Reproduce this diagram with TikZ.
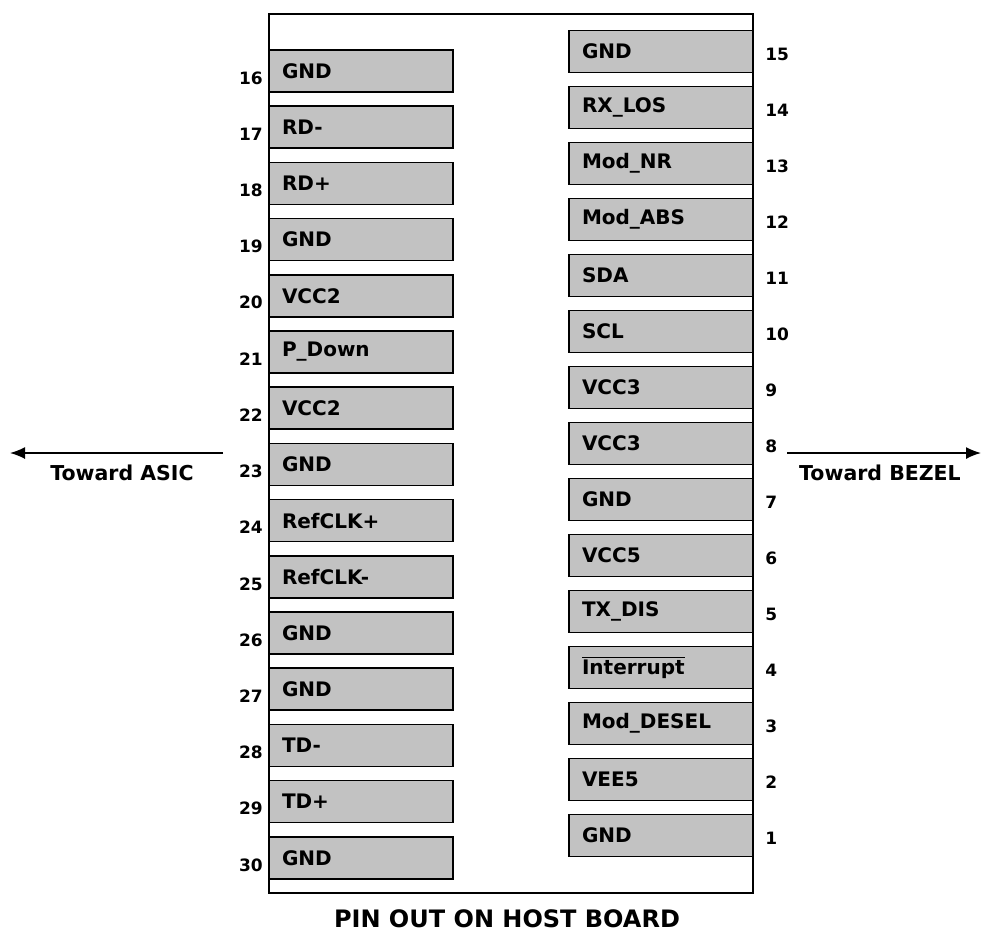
\documentclass[tikz,border=0pt]{standalone}
\usepackage{fontspec}
\setmainfont{DejaVu Sans}
\usepackage{tikz}
\usetikzlibrary{positioning,arrows.meta}
\usepackage{xcolor}
\definecolor{padgray}{RGB}{194,194,194}
\newcommand{\activelow}[1]{\setbox0\hbox{#1}\rlap{\rule[\dimexpr\ht0+1.8pt\relax]{\wd0}{1.3pt}}\box0}

\begin{document}
\begin{tikzpicture}[x=1pt,y=-1pt,
  pad/.style={rectangle,draw=black,line width=1.5pt,fill=padgray,
    font=\fontsize{20}{23}\selectfont\bfseries,minimum width=184pt,minimum height=42pt,
    inner xsep=13pt,text width=158pt,align=left},
  lpin/.style={pad,label={[name=n#1,font=\fontsize{17}{20}\selectfont\bfseries,
    yshift=-7pt,label distance=2pt]left:#1}},
  rpin/.style={pad,label={[name=n#1,font=\fontsize{17}{20}\selectfont\bfseries,
    yshift=-3pt,label distance=8pt]right:#1}},
  darr/.style={-{Latex[length=15pt,width=12pt]},black,line width=1.5pt},
  dlab/.style={font=\fontsize{20.5}{24}\selectfont\bfseries}
]
\useasboundingbox (0,0) rectangle (981,938);
\node[draw=black,line width=1.5pt,minimum width=484pt,minimum height=879pt] (board) at (511,453.5) {};
% left row, pins 16 to 30
\node[lpin=16] (p16) at (361,71) {GND};
\node[lpin=17] (p17) at (361,127.2) {RD-};
\node[lpin=18] (p18) at (361,183.4) {RD+};
\node[lpin=19] (p19) at (361,239.6) {GND};
\node[lpin=20] (p20) at (361,295.8) {VCC2};
\node[lpin=21] (p21) at (361,352) {P\_Down};
\node[lpin=22] (p22) at (361,408.2) {VCC2};
\node[lpin=23] (p23) at (361,464.4) {GND};
\node[lpin=24] (p24) at (361,520.6) {RefCLK+};
\node[lpin=25] (p25) at (361,576.8) {RefCLK-};
\node[lpin=26] (p26) at (361,633) {GND};
\node[lpin=27] (p27) at (361,689.2) {GND};
\node[lpin=28] (p28) at (361,745.4) {TD-};
\node[lpin=29] (p29) at (361,801.6) {TD+};
\node[lpin=30] (p30) at (361,857.8) {GND};
% right row, pins 15 down to 1
\node[rpin=15] (p15) at (661,51.5) {GND};
\node[rpin=14] (p14) at (661,107.5) {RX\_LOS};
\node[rpin=13] (p13) at (661,163.5) {Mod\_NR};
\node[rpin=12] (p12) at (661,219.5) {Mod\_ABS};
\node[rpin=11] (p11) at (661,275.5) {SDA};
\node[rpin=10] (p10) at (661,331.5) {SCL};
\node[rpin=9] (p9) at (661,387.5) {VCC3};
\node[rpin=8] (p8) at (661,443.5) {VCC3};
\node[rpin=7] (p7) at (661,499.5) {GND};
\node[rpin=6] (p6) at (661,555.5) {VCC5};
\node[rpin=5] (p5) at (661,611.5) {TX\_DIS};
\node[rpin=4] (p4) at (661,667.5) {\activelow{Interrupt}};
\node[rpin=3] (p3) at (661,723.5) {Mod\_DESEL};
\node[rpin=2] (p2) at (661,779.5) {VEE5};
\node[rpin=1] (p1) at (661,835.5) {GND};
% direction arrows
\coordinate (asicfrom) at (223,453);
\coordinate (asicto) at (10,453);
\coordinate (bezelfrom) at (787,453);
\coordinate (bezelto) at (981,453);
\draw[darr] (asicfrom) -- (asicto);
\draw[darr] (bezelfrom) -- (bezelto);
\node[dlab] (asic) at (122,473) {Toward ASIC};
\node[dlab] (bezel) at (880,473) {Toward BEZEL};
\node[font=\fontsize{24}{28}\selectfont\bfseries] (title) at (507,919) {PIN OUT ON HOST BOARD};
\end{tikzpicture}
\end{document}
